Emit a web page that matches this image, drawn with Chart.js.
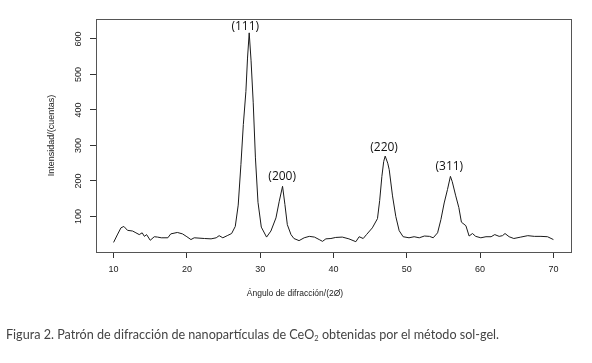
<!DOCTYPE html>
<html>
<head>
<meta charset="utf-8">
<script src="https://cdn.jsdelivr.net/npm/chart.js@4"></script>
<style>
  body { margin: 0; background: #fff; }
  #wrap { position: relative; width: 592px; height: 363px; }
  #xTitle {
    position: absolute; top: 288px; left: 195px; width: 200px; text-align: center;
    font: 8.5px "Liberation Sans", Arial, sans-serif; color: #222;
  }
  #caption {
    position: absolute; top: 327px; left: 6px; white-space: nowrap;
    font: 12.6px Lato, sans-serif; color: #444;
  }
  #caption sub { font-size: 7.5px; vertical-align: -2px; line-height: 0; }
</style>
</head>
<body>
<div id="wrap">
  <canvas id="xrdChart" width="592" height="363"></canvas>
  <div id="xTitle">Ángulo de difracción/(2Ø)</div>
  <div id="caption">Figura 2. Patrón de difracción de nanopartículas de CeO<sub>2</sub> obtenidas por el método sol-gel.</div>
</div>
<script>
// 2-theta angle and intensity
const angle = [
  10.0, 10.5, 11.0, 11.4, 11.9, 12.6, 13.05, 13.5, 13.9, 14.2, 14.5, 15.0, 15.55, 16.0, 16.5,
  17.4, 17.8, 18.7, 19.4, 20.0, 20.55, 21.0, 22.4, 23.3, 24.0, 24.4, 24.9, 25.5, 26.1, 26.6,
  27.0, 27.37, 27.7, 28.05, 28.27, 28.5, 28.75, 29.05, 29.35, 29.7, 30.15, 30.87, 31.46, 32.15,
  32.6, 33.05, 33.37, 33.7, 34.2, 34.6, 35.3, 36.0, 36.7, 37.4, 38.05, 38.5, 38.96, 39.65,
  40.3, 41.2, 42.1, 43.05, 43.5, 44.05, 44.5, 45.3, 46.0, 46.3, 46.6, 46.85, 47.05, 47.4,
  47.6, 48.05, 48.5, 48.96, 49.5, 50.3, 51.0, 51.7, 52.4, 53.1, 53.6, 54.2, 54.65, 55.1,
  55.55, 55.95, 56.2, 56.65, 57.1, 57.45, 58.06, 58.5, 58.96, 59.4, 60.1, 60.8, 61.5, 62.0,
  62.6, 63.05, 63.4, 63.96, 64.6, 65.55, 66.5, 67.4, 68.3, 69.2, 70.0
];
const counts = [
  27, 48, 68, 72, 61, 59, 54, 49, 54, 44, 49, 33, 43, 42, 40,
  40, 51, 55, 51, 43, 35, 40, 38, 37, 40, 46, 40, 46, 52, 72,
  132, 246, 359, 452, 546, 617, 540, 420, 265, 140, 70, 42, 59, 96,
  143, 185, 134, 77, 49, 38, 32, 40, 44, 42, 35, 30, 37, 38,
  41, 42, 37, 29, 43, 38, 49, 68, 94, 145, 213, 255, 270, 250,
  232, 158, 100, 60, 43, 40, 43, 40, 45, 44, 40, 54, 91, 138,
  176, 213, 198, 160, 125, 84, 74, 45, 52, 44, 40, 43, 43, 49,
  44, 46, 52, 43, 38, 42, 46, 44, 44, 43, 35
];

const xTicks = [10, 20, 30, 40, 50, 60, 70];
const yTicks = [100, 200, 300, 400, 500, 600];

// Miller index labels over the peaks
const peakLabels = ["(111)", "(200)", "(220)", "(311)"];
const peakLabelX = [27.96, 33.0, 46.9, 55.8];
const peakLabelY = [634, 212, 294, 241];

const boxPlugin = {
  id: "box",
  afterDraw(chart) {
    const { ctx, chartArea: a } = chart;
    ctx.save();
    ctx.strokeStyle = "#555";
    ctx.lineWidth = 1;
    ctx.strokeRect(Math.round(a.left) + 0.5, Math.round(a.top) + 0.5,
      Math.round(a.right - a.left), Math.round(a.bottom - a.top));
    ctx.restore();
  }
};

const peakPlugin = {
  id: "peaks",
  afterDatasetsDraw(chart) {
    const { ctx, scales } = chart;
    ctx.save();
    ctx.font = '12px "Open Sans", sans-serif';
    ctx.fillStyle = "#111";
    ctx.textAlign = "center";
    ctx.textBaseline = "middle";
    peakLabels.forEach((t, i) => {
      ctx.fillText(t, scales.x.getPixelForValue(peakLabelX[i]), scales.y.getPixelForValue(peakLabelY[i]));
    });
    ctx.restore();
  }
};

const ctx = document.getElementById("xrdChart").getContext("2d");
new Chart(ctx, {
  type: "line",
  data: {
    datasets: [{
      data: angle.map((a, i) => ({ x: a, y: counts[i] })),
      borderColor: "#1a1a1a",
      borderWidth: 1,
      pointRadius: 0,
      tension: 0,
      fill: false
    }]
  },
  options: {
    responsive: false,
    animation: false,
    layout: { padding: { top: 19, right: 21, left: 0, bottom: 0 } },
    plugins: { legend: { display: false }, tooltip: { enabled: false } },
    scales: {
      x: {
        type: "linear",
        min: 7.6,
        max: 72.4,
        afterBuildTicks: (s) => { s.ticks = xTicks.map(v => ({ value: v })); },
        afterFit: (s) => { s.height = 111; },
        grid: { drawOnChartArea: false, drawTicks: true, tickLength: 6, color: "#333" },
        border: { display: false },
        ticks: { color: "#222", padding: 6, maxRotation: 0, font: { family: "Liberation Sans", size: 9 } }
      },
      y: {
        min: 0,
        max: 656,
        afterBuildTicks: (s) => { s.ticks = yTicks.map(v => ({ value: v })); },
        afterFit: (s) => { s.width = 96; },
        grid: { drawOnChartArea: false, drawTicks: true, tickLength: 6, color: "#333" },
        border: { display: false },
        ticks: {
          color: "#222", padding: 4, minRotation: 90, maxRotation: 90, crossAlign: "center",
          font: { family: "Liberation Sans", size: 9 }
        },
        title: {
          display: true,
          text: "Intensidad/(cuentas)",
          color: "#222",
          padding: { top: 46, bottom: 0 },
          font: { family: "Liberation Sans", size: 9 }
        }
      }
    }
  },
  plugins: [boxPlugin, peakPlugin]
});
</script>
</body>
</html>
